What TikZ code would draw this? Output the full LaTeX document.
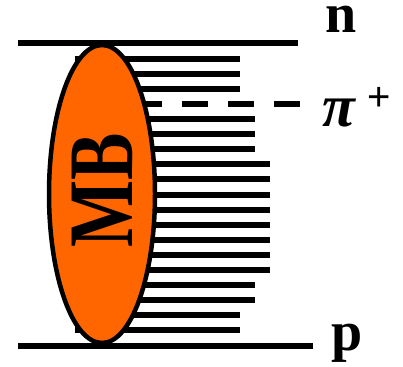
\documentclass[tikz,border=0pt]{standalone}
\usepackage{fontspec}
\setmainfont{Liberation Serif}
\newfontfamily\plusfont{Liberation Sans}
\usetikzlibrary{positioning,shapes.geometric}
\definecolor{mborange}{HTML}{FF6600}

\begin{document}
\begin{tikzpicture}[x=1pt,y=-1pt,
  nucleon/.style={line width=6pt},
  rung/.style={line width=6pt},
  tag/.style={font=\fontsize{56}{56}\selectfont\bfseries,inner sep=0pt,text height=28pt,text depth=13pt,anchor=base west}]
\useasboundingbox (0,0) rectangle (403,366);
% exchanged mesons
\foreach \i/\xe in {0/240,1/240,2/240,4/255,5/255,6/255,7/270,8/270,9/270,10/270,11/270,12/270,13/270,14/270,15/255,16/255,17/240,18/240}
  \draw[rung] (75,{59+15.06*\i}) -- (\xe,{59+15.06*\i});
\draw[rung,dash pattern=on 26pt off 20pt] (90,104.2) -- (300,104.2);
% nucleon lines
\draw[nucleon] (18,43) -- (298,43);
\draw[nucleon] (18,346) -- (313,346);
% meson cloud
\node[ellipse,draw=black,line width=4.5pt,fill=mborange,minimum width=106pt,minimum height=298pt,inner sep=0pt] (mb) at (102,194) {};
\node[rotate=90,yscale=1.3,inner sep=0pt,font=\fontsize{71}{71}\selectfont\bfseries] (mbtext) at (102.5,190) {MB};
% labels
\node[tag] (n) at (325,33) {n};
\node[tag] (pi) at (322,126) {\fontsize{60}{60}\selectfont\bfseries\itshape π\hspace{13pt}\raisebox{16pt}{\plusfont\fontsize{40}{40}\selectfont\mdseries\upshape +}};
\node[tag] (p) at (331,350) {p};
\end{tikzpicture}
\end{document}
